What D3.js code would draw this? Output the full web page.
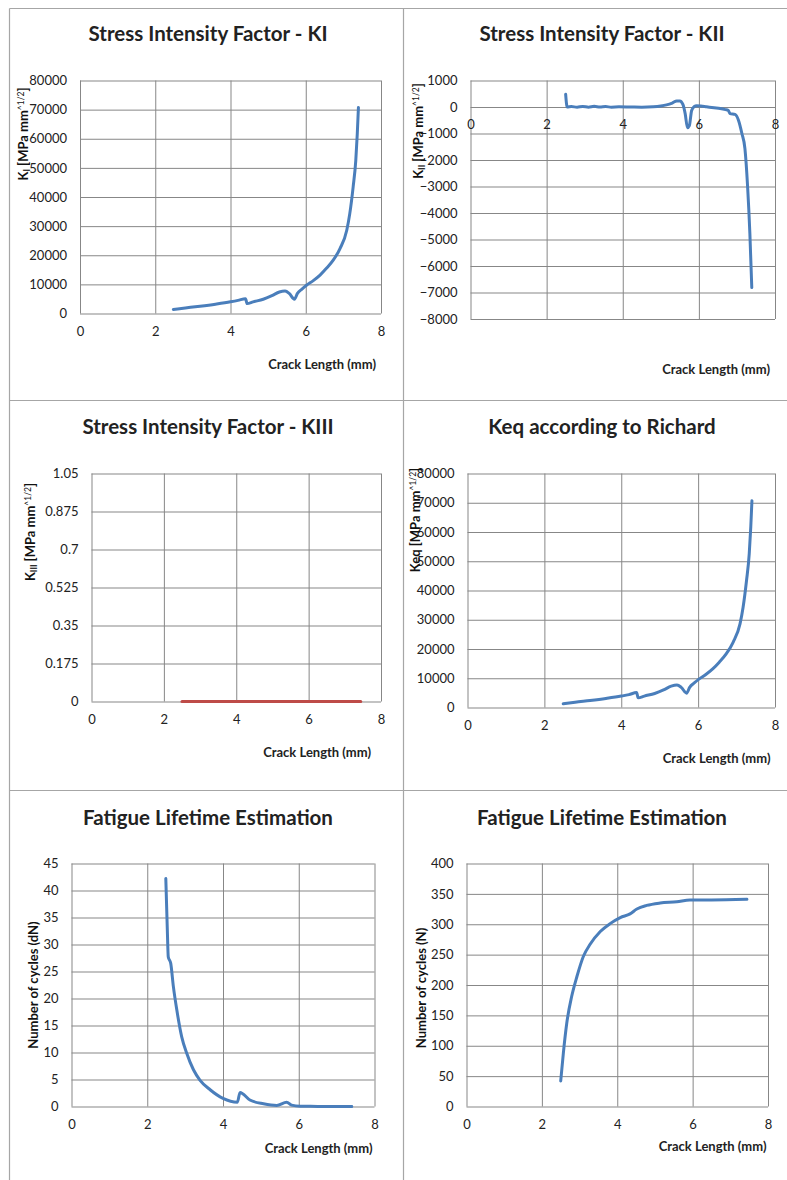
<!DOCTYPE html>
<html>
<head>
<meta charset="utf-8">
<script src="https://cdn.jsdelivr.net/npm/d3@7/dist/d3.min.js"></script>
<style>
    body { margin: 0; background: #fff; }
    text { font-family: Lato, "Open Sans", sans-serif; fill: #000; }
    .grid line { stroke: #878787; stroke-width: 1; }
    .grid path { display: none; }
    .tick-labels path { display: none; }
    .tick-labels text { font-size: 13px; fill: #222; }
</style>
</head>
<body>
<div id="graphic"></div>
<script>
// Dati
var crackTicks = [0, 2, 4, 6, 8];

var kiTicks = [0, 10000, 20000, 30000, 40000, 50000, 60000, 70000, 80000];
var kiCrack = [2.48, 2.8, 3.19, 3.6, 4.0, 4.2, 4.4, 4.44, 4.6, 4.87, 5.1, 5.3, 5.45, 5.56, 5.7, 5.78, 5.9, 6.02, 6.2, 6.38, 6.55, 6.73, 6.91, 7.09, 7.17, 7.26, 7.33, 7.37, 7.4];
var kiValues = [1400, 1900, 2500, 3200, 4000, 4500, 5100, 3400, 4000, 4900, 6100, 7400, 7700, 6900, 4900, 6900, 8400, 9700, 11300, 13200, 15500, 18300, 22300, 28600, 34300, 43500, 52600, 61800, 70700];

var kiiTicks = [1000, 0, -1000, -2000, -3000, -4000, -5000, -6000, -7000, -8000];
var kiiCrack = [2.5, 2.54, 2.65, 2.8, 2.95, 3.1, 3.25, 3.4, 3.55, 3.7, 3.9, 4.2, 4.5, 4.8, 5.0, 5.15, 5.3, 5.42, 5.5, 5.58, 5.64, 5.7, 5.75, 5.81, 5.88, 5.94, 6.05, 6.2, 6.4, 6.56, 6.7, 6.77, 6.82, 6.95, 7.04, 7.13, 7.21, 7.28, 7.34, 7.39];
var kiiValues = [480, 0, 15, -5, 20, -5, 25, 0, 15, -5, 5, 0, -5, 10, 40, 80, 150, 230, 230, 100, -250, -780, -700, -130, 20, 50, 40, 10, -30, -60, -100, -125, -250, -280, -500, -1000, -1570, -3000, -4780, -6810];

var kiiiTicks = [0, 0.175, 0.35, 0.525, 0.7, 0.875, 1.05];
var kiiiCrack = [2.5, 3.5, 4.5, 5.5, 6.5, 7.44];
var kiiiValues = [0, 0, 0, 0, 0, 0];

var keqTicks = [0, 10000, 20000, 30000, 40000, 50000, 60000, 70000, 80000];
var keqCrack = [2.49, 2.8, 3.19, 3.6, 4.0, 4.2, 4.4, 4.44, 4.6, 4.87, 5.1, 5.3, 5.45, 5.56, 5.7, 5.78, 5.9, 6.02, 6.2, 6.38, 6.55, 6.73, 6.91, 7.09, 7.17, 7.26, 7.33, 7.37, 7.4];
var keqValues = [1250, 1800, 2400, 3100, 3900, 4400, 5100, 3300, 3900, 4800, 6000, 7300, 7700, 6900, 4900, 6900, 8400, 9700, 11300, 13200, 15500, 18300, 22300, 28600, 34300, 43500, 52600, 61800, 70700];

var dnTicks = [0, 5, 10, 15, 20, 25, 30, 35, 40, 45];
var dnCrack = [2.49, 2.53, 2.555, 2.62, 2.69, 2.78, 2.91, 3.04, 3.22, 3.39, 3.66, 4.0, 4.38, 4.45, 4.71, 5.07, 5.42, 5.68, 5.81, 6.04, 6.5, 7.4];
var dnValues = [42.2, 32.7, 27.7, 26.5, 22.2, 17.9, 12.9, 9.9, 6.8, 4.9, 3.1, 1.5, 0.8, 2.6, 1.2, 0.5, 0.2, 0.8, 0.25, 0.05, 0.02, 0];

var nTicks = [0, 50, 100, 150, 200, 250, 300, 350, 400];
var nCrack = [2.5, 2.57, 2.66, 2.79, 2.93, 3.1, 3.28, 3.55, 3.81, 4.08, 4.34, 4.52, 4.78, 5.14, 5.58, 5.93, 6.5, 7.44];
var nValues = [42, 88, 137, 181, 214, 247, 267, 288, 301, 311, 317, 325, 331, 335, 337, 340, 340, 341];

var blue = '#4a7ebb';
var red = '#be4b48';

var svg = d3.select('#graphic')
    .append('svg')
    .attr('width', 787)
    .attr('height', 1180);

svg.append('rect').attr('width', 787).attr('height', 1180).attr('fill', '#fff');

// Bordi dei pannelli
var frame = svg.append('g').attr('stroke', '#a6a6a6').attr('stroke-width', 1.2);
frame.append('line').attr('x1', 9.5).attr('x2', 787).attr('y1', 8.5).attr('y2', 8.5);
frame.append('line').attr('x1', 9.5).attr('x2', 787).attr('y1', 400.5).attr('y2', 400.5);
frame.append('line').attr('x1', 9.5).attr('x2', 787).attr('y1', 790.5).attr('y2', 790.5);
frame.append('line').attr('x1', 9.5).attr('x2', 9.5).attr('y1', 8.5).attr('y2', 1180);
frame.append('line').attr('x1', 403.5).attr('x2', 403.5).attr('y1', 8.5).attr('y2', 1180);

function drawPanel(p) {
    var x = d3.scaleLinear().domain([0, 8]).range([p.left, p.right]);
    var y = d3.scaleLinear().domain(d3.extent(p.yTicks)).range([p.bottom, p.top]);
    var g = svg.append('g');

    // griglia orizzontale
    g.append('g')
        .attr('class', 'grid')
        .attr('transform', 'translate(' + p.left + ',0)')
        .call(d3.axisLeft(y).tickValues(p.yTicks).tickSize(-(p.right - p.left)).tickFormat(''));
    // griglia verticale
    g.append('g')
        .attr('class', 'grid')
        .attr('transform', 'translate(0,' + p.top + ')')
        .call(d3.axisBottom(x).tickValues(crackTicks).tickSize(p.bottom - p.top).tickFormat(''));

    // etichette asse y
    g.append('g')
        .attr('class', 'tick-labels')
        .attr('transform', 'translate(' + p.left + ',0)')
        .call(d3.axisLeft(y).tickValues(p.yTicks).tickSize(0).tickPadding(13).tickFormat(p.fmt || d3.format('d')));
    // etichette asse x
    var xAt = p.xAt === undefined ? d3.min(p.yTicks) : p.xAt;
    g.append('g')
        .attr('class', 'tick-labels')
        .attr('transform', 'translate(0,' + y(xAt) + ')')
        .call(d3.axisBottom(x).tickValues(crackTicks).tickSize(0).tickPadding(13).tickFormat(d3.format('d')));

    // serie
    var pts = p.crack.map(function (c, i) { return [c, p.values[i]]; });
    g.append('path')
        .datum(pts)
        .attr('fill', 'none')
        .attr('stroke', p.color)
        .attr('stroke-width', 3)
        .attr('stroke-linejoin', 'round')
        .attr('stroke-linecap', 'round')
        .attr('d', d3.line()
            .curve(d3.curveMonotoneX)
            .x(function (d) { return x(d[0]); })
            .y(function (d) { return y(d[1]); }));

    // titolo
    g.append('text')
        .attr('x', p.titleX)
        .attr('y', p.titleY)
        .attr('text-anchor', 'middle')
        .attr('font-size', '20.5px')
        .attr('font-weight', 'bold')
        .style('fill', '#222')
        .text(p.title);

    // titolo asse x
    g.append('text')
        .attr('x', p.xLabelX)
        .attr('y', p.xLabelY)
        .attr('text-anchor', 'end')
        .attr('font-size', '13px')
        .attr('font-weight', 'bold')
        .style('fill', '#222')
        .text('Crack Length (mm)');

    // titolo asse y
    var yl = g.append('text')
        .attr('transform', 'translate(' + p.yLabelX + ',' + p.yLabelY + ') rotate(-90)')
        .attr('text-anchor', 'middle')
        .attr('dy', '0.35em')
        .attr('font-size', '13px')
        .attr('font-weight', 'bold')
        .style('fill', '#111');
    p.yLabel.forEach(function (part) {
        var t = yl.append('tspan').text(part[0]);
        if (part[1] === 'sub') {
            t.attr('font-size', '8.5px').attr('baseline-shift', '-25%');
        } else if (part[1] === 'sup') {
            t.attr('font-size', '8.5px').attr('baseline-shift', '45%').attr('font-weight', 'normal');
        }
    });
}

var panels = [
    {title: 'Stress Intensity Factor - KI', titleX: 208, titleY: 41,
        left: 80, right: 381, top: 80.5, bottom: 313.5,
        yTicks: kiTicks, crack: kiCrack, values: kiValues, color: blue,
        xLabelX: 376, xLabelY: 369, yLabelX: 23, yLabelY: 134,
        yLabel: [['K'], ['I', 'sub'], [' [MPa mm'], ['^1/2', 'sup'], [']']]},
    {title: 'Stress Intensity Factor - KII', titleX: 602, titleY: 41,
        left: 470.5, right: 775, top: 80.5, bottom: 319,
        yTicks: kiiTicks, crack: kiiCrack, values: kiiValues, color: blue, xAt: 0,
        xLabelX: 770, xLabelY: 374, yLabelX: 418, yLabelY: 131,
        yLabel: [['K'], ['II', 'sub'], [' [MPa mm'], ['^1/2', 'sup'], [']']]},
    {title: 'Stress Intensity Factor - KIII', titleX: 208, titleY: 434,
        left: 91.5, right: 381, top: 473.5, bottom: 701.5,
        yTicks: kiiiTicks, crack: kiiiCrack, values: kiiiValues, color: red,
        fmt: function (d) { return String(+d.toFixed(3)); },
        xLabelX: 371, xLabelY: 757, yLabelX: 30, yLabelY: 532,
        yLabel: [['K'], ['III', 'sub'], [' [MPa mm'], ['^1/2', 'sup'], [']']]},
    {title: 'Keq according to Richard', titleX: 602, titleY: 434,
        left: 467.5, right: 775, top: 473.5, bottom: 707.5,
        yTicks: keqTicks, crack: keqCrack, values: keqValues, color: blue,
        xLabelX: 770.5, xLabelY: 763, yLabelX: 415, yLabelY: 520,
        yLabel: [['Keq [MPa mm'], ['^1/2', 'sup'], [']']]},
    {title: 'Fatigue Lifetime Estimation', titleX: 208, titleY: 825,
        left: 71.5, right: 374.5, top: 863.5, bottom: 1106.5,
        yTicks: dnTicks, crack: dnCrack, values: dnValues, color: blue,
        xLabelX: 372.5, xLabelY: 1153, yLabelX: 33, yLabelY: 985,
        yLabel: [['Number of cycles (dN)']]},
    {title: 'Fatigue Lifetime Estimation', titleX: 602, titleY: 825,
        left: 466.5, right: 768, top: 863.5, bottom: 1106.5,
        yTicks: nTicks, crack: nCrack, values: nValues, color: blue,
        xLabelX: 766.5, xLabelY: 1151, yLabelX: 421, yLabelY: 988,
        yLabel: [['Number of cycles (N)']]}
];

panels.forEach(drawPanel);
</script>
</body>
</html>
